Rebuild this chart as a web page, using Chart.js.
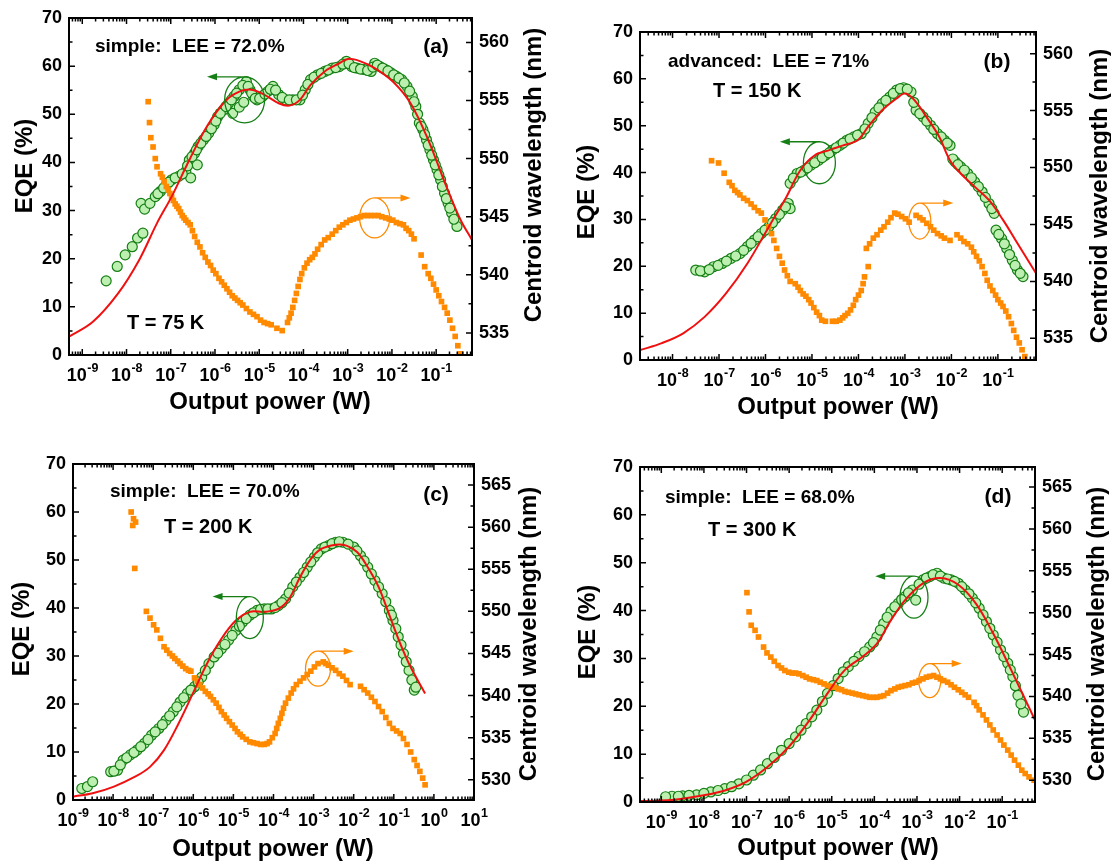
<!DOCTYPE html>
<html>
<head>
<meta charset="utf-8">
<script src="https://cdn.jsdelivr.net/npm/chart.js@4.4.1/dist/chart.umd.min.js"></script>
<style>
  body { margin: 0; background: #fff; }
  #wrap { position: relative; width: 1111px; height: 865px; }
  canvas { position: absolute; }
</style>
</head>
<body>
<div id="wrap">
  <canvas id="pa" width="555" height="432" style="left:0;top:0"></canvas>
  <canvas id="pb" width="556" height="432" style="left:555px;top:0"></canvas>
  <canvas id="pc" width="555" height="433" style="left:0;top:432px"></canvas>
  <canvas id="pd" width="556" height="433" style="left:555px;top:432px"></canvas>
</div>
<script>
// x values are log10 of output power (W)

// (a) T = 75 K
const aEqeLogP = [-8.46,-8.21,-8.03,-7.87,-7.75,-7.63,-7.67,-7.59,-7.47,-7.35,-7.23,-7.10,-6.98,-6.82,-6.66,-6.58,-6.46,-6.38,-6.26,-6.14,-6.02,-5.94,-5.81,-5.69,-5.57,-5.45,-5.29,-5.21,-5.13,-5.05,-4.93,-4.81,-4.69,-4.56,-4.40,-4.24,-4.08,-3.96,-3.84,-3.68,-3.52,-3.35,-3.19,-3.03,-2.91,-2.79,-2.63,-2.47,-2.39,-2.27,-2.15,-2.02,-1.90,-1.78,-1.66,-1.54,-1.46,-1.38,-1.30,-1.22,-1.14,-1.06,-0.98,-0.90,-0.81,-0.73,-0.65,-0.53,-5.60,-5.45,-5.35,-6.55,-6.40,
  -7.29,-7.16,-7.04,-6.90,-6.74,-6.62,-6.52,-6.42,-6.32,-6.20,-6.08,-5.98,-5.88,-5.75,-5.63,-5.51,-5.37,-5.25,-5.17,-5.09,-4.99,-4.87,-4.75,-4.63,-4.48,-4.32,-4.16,-4.02,-3.90,-3.76,-3.60,-3.44,-3.27,-3.11,-2.97,-2.85,-2.71,-2.55,-2.43,-2.33,-2.21,-2.09,-1.96,-1.84,-1.72,-1.60,-1.50,-1.42,-1.34,-1.26,-1.18,-1.10,-1.02,-0.94,-0.86,-0.77,-0.69,-0.60];
const aEqe = [15.4,18.4,20.8,22.5,24.3,25.3,31.5,30.3,31.5,32.9,34.0,35.3,36.4,37.1,38.1,40.5,41.9,43.3,44.7,46.1,47.8,49.5,50.9,52.3,53.7,55.1,56.8,55.1,53.7,53.0,53.7,54.7,55.8,54.1,53.0,53.0,53.0,55.1,57.2,58.2,58.9,59.6,59.9,61.0,59.9,59.6,59.3,58.9,60.6,59.9,59.3,58.6,57.9,57.2,55.8,53.7,51.6,48.2,46.8,44.7,42.6,40.5,38.5,36.4,33.6,31.5,29.5,26.7,50.2,51.5,52.5,36.8,39.5,
  33.5,34.7,35.9,36.8,37.6,39.3,41.2,42.6,44.0,45.4,47.0,48.6,50.2,51.6,53.0,54.4,56.0,55.8,54.4,53.3,53.3,54.2,55.2,55.0,53.5,53.0,53.0,54.0,56.2,57.7,58.5,59.2,59.7,60.4,60.5,59.7,59.4,59.1,59.8,60.2,59.6,59.0,58.2,57.5,56.5,54.8,52.6,50.0,47.5,45.8,43.6,41.5,39.5,37.4,35.0,32.5,30.5,28.2];
const aFitLogP = [-9.30,-8.76,-8.19,-7.71,-7.31,-6.98,-6.58,-6.18,-5.77,-5.45,-5.17,-4.89,-4.56,-4.32,-4.08,-3.84,-3.52,-3.19,-2.99,-2.71,-2.39,-1.98,-1.58,-1.18,-0.77,-0.45,-0.19];
const aFit = [3.8,6.9,12.8,19.8,27.4,32.9,40.5,47.5,52.7,54.7,55.1,54.1,52.3,51.8,53.0,56.1,58.9,60.6,61.5,61.0,59.6,56.8,52.3,44.7,35.0,28.1,23.9];
const aWlLogP = [-7.51,-7.48,-7.45,-7.40,-7.35,-7.31,-7.23,-7.15,-7.06,-6.98,-6.90,-6.82,-6.74,-6.66,-6.56,-6.46,-6.34,-6.22,-6.10,-5.98,-5.85,-5.73,-5.61,-5.49,-5.37,-5.21,-5.05,-4.89,-4.73,-4.60,-4.48,-4.36,-4.28,-4.20,-4.12,-4.04,-3.92,-3.80,-3.68,-3.52,-3.35,-3.19,-3.03,-2.87,-2.71,-2.55,-2.39,-2.23,-2.06,-1.90,-1.74,-1.62,-1.50,-1.34,-1.26,-1.18,-1.06,-0.94,-0.81,-0.69,-0.57,-0.45,
  -7.19,-7.10,-7.02,-6.94,-6.86,-6.78,-6.70,-6.61,-6.51,-6.40,-6.28,-6.16,-6.04,-5.91,-5.79,-5.67,-5.55,-5.43,-5.29,-5.13,-4.97,-4.81,-4.32,-4.24,-4.16,-4.08,-3.98,-3.86,-3.74,-3.60,-3.44,-3.27,-3.11,-2.95,-2.79,-2.63,-2.47,-2.31,-2.14,-1.98,-1.82,-1.68,-1.56,-1.12,-1.00,-0.88,-0.75,-0.63,-0.51];
const aWl = [554.9,553.1,551.8,551.0,550.0,549.3,548.7,548.0,547.3,546.7,546.1,545.7,545.1,544.7,544.3,543.3,542.4,541.5,540.8,540.1,539.4,538.8,538.2,537.8,537.4,536.8,536.4,535.9,535.7,535.4,535.2,535.9,536.7,537.8,539.0,540.1,541.0,541.5,542.2,543.0,543.5,544.1,544.5,544.8,545.0,545.1,545.1,545.0,544.8,544.5,544.3,543.8,543.1,541.7,540.7,540.1,539.2,538.2,537.2,536.1,534.7,533.2,
  548.4,547.6,547.0,546.4,545.9,545.4,544.9,544.5,543.8,542.8,541.9,541.1,540.4,539.7,539.1,538.5,538.0,537.6,537.1,536.6,536.1,535.8,536.3,537.2,538.4,539.6,540.6,541.3,541.8,542.6,543.2,543.8,544.3,544.7,544.9,545.1,545.1,545.1,544.9,544.7,544.4,544.0,543.5,539.7,538.7,537.7,536.7,535.4,533.9];

// (b) T = 150 K
const bEqeLogP = [-7.50,-7.31,-7.12,-6.93,-6.74,-6.55,-6.39,-6.24,-6.09,-5.93,-5.78,-5.63,-5.51,-5.47,-5.47,-5.32,-5.17,-5.02,-4.86,-4.71,-4.56,-4.40,-4.25,-4.10,-3.94,-3.79,-3.64,-3.49,-3.33,-3.18,-3.03,-2.87,-2.76,-2.61,-2.45,-2.30,-2.15,-2.03,-1.92,-1.80,-1.65,-1.50,-1.34,-1.19,-1.08,-1.04,-0.92,-0.81,-0.69,-0.58,-0.46,
  -7.40,-7.21,-7.02,-6.84,-6.64,-6.47,-6.31,-6.16,-6.01,-5.85,-5.70,-5.57,-5.40,-5.24,-5.10,-4.94,-4.78,-4.63,-4.48,-4.33,-4.18,-4.02,-3.86,-3.71,-3.56,-3.41,-3.25,-3.10,-2.95,-2.81,-2.68,-2.53,-2.38,-2.22,-2.09,-1.97,-1.86,-1.72,-1.57,-1.42,-1.27,-1.13,-0.98,-0.86,-0.75,-0.63,-0.52];
const bEqe = [19.2,18.8,19.9,20.6,21.7,22.7,24.2,25.6,27.0,28.4,30.2,32.0,33.4,32.3,37.7,39.8,40.5,41.6,42.6,43.7,44.8,45.8,46.9,47.6,48.3,50.5,52.9,54.7,56.1,57.6,58.1,57.2,53.3,51.9,50.1,48.3,46.9,45.8,42.3,41.2,39.8,38.0,35.9,33.4,31.3,27.7,25.9,23.8,21.3,19.2,17.8,
  19.0,19.3,20.2,21.1,22.2,23.4,24.9,26.3,27.7,29.3,31.1,32.7,38.8,40.1,41.0,42.1,43.2,44.2,45.3,46.3,47.2,48.0,49.3,51.7,53.8,55.4,56.9,57.9,57.8,55.0,52.6,51.0,49.2,47.6,46.3,42.9,41.7,40.5,38.9,37.0,34.7,32.3,26.8,24.8,22.5,20.2,18.5];
const bFitLogP = [-8.70,-8.23,-7.77,-7.31,-6.85,-6.39,-5.93,-5.55,-5.25,-4.94,-4.63,-4.33,-4.02,-3.79,-3.49,-3.18,-2.99,-2.80,-2.49,-2.26,-2.03,-1.80,-1.50,-1.19,-0.89,-0.58,-0.18];
const bFit = [2.1,3.6,5.7,9.2,14.2,20.6,28.4,34.8,40.5,43.7,44.8,45.8,46.9,49.8,53.3,55.8,56.9,55.5,51.2,47.6,42.6,39.8,37.0,34.1,29.9,24.9,18.5];
const bWlLogP = [-7.16,-7.01,-6.89,-6.78,-6.66,-6.55,-6.39,-6.24,-6.09,-5.93,-5.82,-5.70,-5.59,-5.47,-5.36,-5.25,-5.13,-5.02,-4.90,-4.79,-4.71,-4.56,-4.40,-4.29,-4.17,-4.06,-3.94,-3.87,-3.79,-3.83,-3.68,-3.52,-3.37,-3.22,-3.07,-2.91,-2.76,-2.61,-2.45,-2.30,-2.15,-2.03,-1.88,-1.73,-1.57,-1.46,-1.34,-1.23,-1.11,-1.00,-0.89,-0.77,-0.66,-0.54,-0.42,
  -6.72,-6.60,-6.47,-6.31,-6.16,-6.01,-5.87,-5.76,-5.64,-5.53,-5.30,-5.19,-5.07,-4.96,-4.84,-4.48,-4.34,-4.23,-4.11,-4.00,-3.90,-3.76,-3.60,-3.45,-3.30,-3.15,-2.99,-2.68,-2.53,-2.38,-2.22,-1.80,-1.65,-1.52,-1.40,-1.28,-1.17,-1.05,-0.94,-0.83,-0.71,-0.60,-0.48];
const bWl = [550.6,550.4,549.5,548.7,548.0,547.6,547.1,546.5,546.0,544.8,543.6,542.2,541.0,540.0,539.8,539.2,538.7,538.1,537.3,536.6,536.5,536.5,536.6,537.0,537.5,538.4,539.2,540.4,541.3,542.9,543.8,544.5,545.2,546.0,545.7,545.2,545.8,545.4,544.8,544.2,543.8,543.6,544.1,543.5,543.0,542.2,541.3,540.1,539.2,538.4,537.8,536.9,535.7,534.6,533.4,
  548.4,547.8,547.3,546.8,546.2,545.4,544.2,542.9,541.6,540.5,539.5,538.9,538.4,537.7,537.0,536.5,536.8,537.2,537.9,538.8,539.8,543.3,544.1,544.8,545.6,545.9,545.5,545.6,545.1,544.5,544.0,543.8,543.3,542.6,541.8,540.7,539.6,538.8,538.1,537.4,536.3,535.1,534.0];

// (c) T = 200 K
const cEqeLogP = [-8.78,-8.64,-8.51,-8.06,-7.89,-7.75,-7.57,-7.40,-7.22,-7.04,-6.86,-6.68,-6.50,-6.33,-6.15,-5.97,-5.79,-5.61,-5.48,-5.30,-5.12,-4.94,-4.77,-4.59,-4.41,-4.23,-4.05,-3.88,-3.70,-3.52,-3.34,-3.16,-2.98,-2.81,-2.63,-2.45,-2.27,-2.00,-1.83,-1.65,-1.47,-1.29,-1.11,-1.02,-0.89,-0.76,-0.62,-0.49,
  -7.98,-7.82,-7.66,-7.48,-7.31,-7.13,-6.95,-6.77,-6.59,-6.41,-6.24,-6.06,-5.88,-5.70,-5.39,-5.21,-5.03,-4.85,-4.68,-4.50,-4.32,-4.14,-3.96,-3.79,-3.61,-3.43,-3.25,-3.07,-2.90,-2.72,-2.54,-2.36,-2.14,-1.92,-1.74,-1.56,-1.38,-1.20,-1.06,-0.95,-0.82,-0.69,-0.55,-0.45];
const cEqe = [2.4,2.8,3.8,5.9,6.2,8.3,9.4,10.4,11.8,13.5,14.9,16.6,18.4,20.4,22.2,23.6,25.6,28.4,29.8,31.5,33.3,35.3,37.1,38.5,39.5,39.8,39.8,40.5,41.9,44.4,46.4,48.5,50.6,52.3,53.0,53.7,53.7,52.7,50.9,48.5,45.7,43.0,39.5,37.4,34.0,30.5,27.0,22.9,
  6.0,7.3,8.8,9.9,11.1,12.6,14.2,15.7,17.5,19.4,21.3,22.9,24.6,27.0,30.6,32.4,34.3,36.2,37.8,39.0,39.7,39.8,40.1,41.1,43.1,45.4,47.4,49.6,51.5,52.7,53.4,53.8,53.3,51.9,49.8,47.1,44.4,41.3,38.5,35.7,32.3,28.8,25.0,23.5];
const cFitLogP = [-9.00,-8.51,-7.98,-7.44,-7.08,-6.73,-6.37,-6.01,-5.66,-5.30,-4.94,-4.59,-4.23,-3.88,-3.61,-3.34,-3.07,-2.81,-2.45,-2.18,-1.91,-1.65,-1.38,-1.11,-0.84,-0.58,-0.22];
const cFit = [0.7,1.4,2.8,4.9,6.9,10.4,15.9,22.2,28.4,33.6,37.4,39.2,39.2,39.8,41.9,46.4,50.2,52.3,53.2,53.0,51.6,48.5,44.4,38.5,32.6,27.7,22.2];
const cWlLogP = [-7.55,-7.49,-7.44,-7.51,-7.46,-7.17,-7.08,-6.99,-6.91,-6.82,-6.73,-6.59,-6.46,-6.33,-6.19,-6.06,-5.97,-5.84,-5.70,-5.57,-5.43,-5.30,-5.17,-5.03,-4.90,-4.77,-4.59,-4.41,-4.23,-4.10,-3.96,-3.88,-3.79,-3.70,-3.56,-3.43,-3.25,-3.07,-2.89,-2.76,-2.63,-2.45,-2.27,-2.09,-1.83,-1.65,-1.47,-1.29,-1.11,-1.02,-0.84,-0.67,-0.49,-0.35,-0.22,
  -6.66,-6.52,-6.39,-6.26,-6.12,-5.90,-5.77,-5.63,-5.50,-5.36,-5.23,-5.10,-4.96,-4.83,-4.68,-4.50,-4.32,-4.16,-4.03,-3.92,-3.83,-3.75,-3.63,-3.50,-3.34,-3.16,-2.98,-2.70,-2.54,-2.36,-2.18,-1.74,-1.56,-1.38,-1.20,-0.93,-0.76,-0.58,-0.42,-0.28];
const cWl = [561.8,561.0,560.6,560.2,555.1,550.0,549.2,548.4,547.8,546.8,545.8,545.0,544.4,543.8,543.2,542.9,542.1,541.3,540.5,539.9,539.1,538.1,537.3,536.5,535.7,535.1,534.5,534.3,534.2,534.5,535.5,536.7,537.9,539.1,540.3,541.3,542.1,542.9,543.8,544.0,543.6,543.0,542.3,541.3,541.1,540.3,539.3,538.1,536.7,536.1,535.5,534.2,532.4,531.0,529.4,
  545.4,544.7,544.1,543.5,543.0,541.7,540.9,540.2,539.5,538.6,537.7,536.9,536.1,535.4,534.8,534.4,534.2,534.3,535.0,536.1,537.3,538.5,539.7,540.8,541.7,542.5,543.4,543.8,543.3,542.6,541.8,540.7,539.8,538.7,537.4,535.8,534.9,533.3,531.7,530.2];

// (d) T = 300 K
const dEqeLogP = [-8.75,-8.50,-8.17,-7.84,-7.51,-7.18,-6.84,-6.51,-6.18,-5.85,-5.60,-5.35,-5.10,-4.85,-4.61,-4.36,-4.11,-3.94,-3.78,-3.61,-3.44,-3.28,-3.11,-3.03,-2.86,-2.70,-2.53,-2.37,-2.20,-2.03,-1.87,-1.70,-1.54,-1.37,-1.21,-1.04,-0.87,-0.75,-0.63,-0.50,
  -8.90,-8.60,-8.35,-8.00,-7.67,-7.35,-7.00,-6.67,-6.35,-6.00,-5.72,-5.47,-5.22,-4.97,-4.73,-4.48,-4.23,-4.02,-3.86,-3.70,-3.52,-3.36,-3.20,-2.95,-2.78,-2.62,-2.45,-2.28,-2.12,-1.95,-1.78,-1.62,-1.45,-1.29,-1.12,-0.96,-0.81,-0.69,-0.56];
const dEqe = [1.2,1.3,1.5,2.1,2.8,3.8,5.6,8.0,10.8,13.6,16.4,19.2,22.7,25.8,28.3,30.4,32.4,34.5,37.3,39.8,41.5,42.9,44.3,42.2,46.4,47.1,47.8,46.8,46.4,45.7,44.3,42.6,40.5,37.7,34.9,31.8,29.0,26.2,22.3,18.8,
  1.1,1.2,1.4,1.8,2.4,3.2,4.6,6.7,9.3,12.2,15.0,17.8,21.0,24.3,27.2,29.4,31.4,33.3,35.9,38.6,40.8,42.3,43.7,45.5,46.8,47.5,47.2,46.6,46.1,45.0,43.5,41.6,39.1,36.3,33.4,30.4,27.6,24.3,20.5];
const dFitLogP = [-9.50,-9.00,-8.50,-8.00,-7.51,-7.01,-6.51,-6.01,-5.52,-5.10,-4.69,-4.27,-3.94,-3.61,-3.28,-2.86,-2.45,-2.03,-1.62,-1.21,-0.79,-0.23];
const dFit = [0.2,0.3,0.7,1.4,2.4,4.2,7.3,11.5,17.1,22.7,27.6,30.4,33.1,38.0,42.2,45.7,46.8,45.4,41.5,35.2,27.6,17.1];
const dWlLogP = [-6.99,-6.94,-6.89,-6.80,-6.72,-6.60,-6.43,-6.26,-6.10,-5.93,-5.77,-5.60,-5.43,-5.27,-5.10,-4.94,-4.77,-4.61,-4.44,-4.27,-4.11,-3.94,-3.78,-3.61,-3.44,-3.28,-3.11,-2.95,-2.78,-2.61,-2.45,-2.28,-2.12,-1.95,-1.79,-1.66,-1.54,-1.37,-1.21,-1.04,-0.87,-0.71,-0.54,-0.37,-0.25,
  -6.52,-6.35,-6.18,-6.01,-5.85,-5.68,-5.52,-5.35,-5.18,-5.02,-4.85,-4.69,-4.52,-4.36,-4.19,-4.02,-3.86,-3.69,-3.52,-3.36,-3.19,-3.03,-2.86,-2.70,-2.53,-2.37,-2.20,-2.03,-1.87,-1.60,-1.45,-1.29,-1.12,-0.96,-0.79,-0.62,-0.46];
const dWl = [552.4,550.1,548.5,547.9,547.1,545.9,544.7,543.7,543.1,542.8,542.7,542.3,542.0,541.7,541.3,541.1,540.8,540.5,540.3,540.1,539.9,539.9,540.1,540.7,541.1,541.3,541.6,541.9,542.3,542.5,542.1,541.7,541.1,540.5,539.9,539.3,538.4,537.2,536.0,534.8,533.6,532.4,531.2,530.4,530.0,
  545.2,544.2,543.4,542.9,542.8,542.5,542.1,541.9,541.5,541.2,540.9,540.6,540.4,540.2,540.0,539.9,540.0,540.4,540.9,541.2,541.4,541.7,542.1,542.4,542.3,541.9,541.4,540.8,540.2,538.9,537.8,536.6,535.4,534.2,533.0,531.8,530.8];

// right-axis tick labels
const abWlTicks = [535, 540, 545, 550, 555, 560];
const cdWlTicks = [530, 535, 540, 545, 550, 555, 560, 565];

const RED = "#f01010";
const ORANGE = "#ff8a00";
const GREEN = "#157f15";
const LIGHTGREEN = "#bdf0b0";
const FONT = 'Arial, "Liberation Sans", sans-serif';

Chart.defaults.font.family = FONT;
Chart.defaults.font.weight = "bold";
Chart.defaults.color = "#000";

// layout of each panel, page pixels
const panels = [
  { id: "pa", box: [0, 0, 555, 432], plot: [69, 18, 472, 355], xLog: [-9.30, -0.19], wlRange: [533.1, 562.1], wlTicks: abWlTicks,
    eqe: [aEqeLogP, aEqe], fit: [aFitLogP, aFit], wl: [aWlLogP, aWl],
    titles: { eqe: [25, 166], wl: [534, 175], power: [270, 402] },
    texts: [["simple:  LEE = 72.0%", 95, 47, "left", 19], ["(a)", 436, 47, "center", 21], ["T = 75 K", 127, 323, "left", 20]],
    marks: [{ axis: "y", logP: -5.33, v: 53.0, rx: 20, ry: 23, to: -6.18, color: GREEN },
            { axis: "y2", logP: -2.39, v: 544.9, rx: 15, ry: 20, to: -1.58, color: ORANGE }] },
  { id: "pb", box: [555, 0, 556, 432], plot: [640, 32, 1036, 360], xLog: [-8.70, -0.18], wlRange: [533.1, 561.9], wlTicks: abWlTicks,
    eqe: [bEqeLogP, bEqe], fit: [bFitLogP, bFit], wl: [bWlLogP, bWl],
    titles: { eqe: [587, 192], wl: [1100, 196], power: [838, 407] },
    texts: [["advanced:  LEE = 71%", 668, 62, "left", 19], ["(b)", 997, 62, "center", 21], ["T = 150 K", 713, 91, "left", 20]],
    marks: [{ axis: "y", logP: -4.84, v: 42.1, rx: 16, ry: 21, to: -5.69, color: GREEN },
            { axis: "y2", logP: -2.68, v: 545.3, rx: 11, ry: 18, to: -1.96, color: ORANGE }] },
  { id: "pc", box: [0, 432, 555, 433], plot: [73, 464, 474, 800], xLog: [-9, 1], wlRange: [527.6, 567.5], wlTicks: cdWlTicks,
    eqe: [cEqeLogP, cEqe], fit: [cFitLogP, cFit], wl: [cWlLogP, cWl],
    titles: { eqe: [22, 629], wl: [529, 634], power: [273, 849] },
    texts: [["simple:  LEE = 70.0%", 110, 492, "left", 19], ["(c)", 436, 495, "center", 21], ["T = 200 K", 164, 527, "left", 20]],
    marks: [{ axis: "y", logP: -4.59, v: 38.0, rx: 13.5, ry: 21, to: -5.52, color: GREEN },
            { axis: "y2", logP: -2.89, v: 543.2, rx: 12.5, ry: 17.5, to: -2.00, color: ORANGE }] },
  { id: "pd", box: [555, 432, 556, 433], plot: [640, 467, 1035, 802], xLog: [-9.50, -0.23], wlRange: [527.4, 567.4], wlTicks: cdWlTicks,
    eqe: [dEqeLogP, dEqe], fit: [dFitLogP, dFit], wl: [dWlLogP, dWl],
    titles: { eqe: [588, 632], wl: [1097, 634], power: [838, 848] },
    texts: [["simple:  LEE = 68.0%", 665, 498, "left", 19], ["(d)", 998, 497, "center", 21], ["T = 300 K", 708, 530, "left", 20]],
    marks: [{ axis: "y", logP: -3.07, v: 42.8, rx: 14, ry: 21, to: -3.98, color: GREEN },
            { axis: "y2", logP: -2.70, v: 541.9, rx: 11, ry: 17, to: -1.95, color: ORANGE }] }
];

const pts = (lp, v) => lp.map((p, i) => ({ x: Math.pow(10, p), y: v[i] }));

// frame, inward ticks, annotations, texts
const deco = {
  id: "deco",
  afterDatasetsDraw(chart, args, o) {
    const ctx = chart.ctx;
    const { x, y, y2 } = chart.scales;
    const a = chart.chartArea;
    ctx.save();
    ctx.strokeStyle = "#000";
    ctx.lineWidth = 1.5;
    ctx.beginPath();
    const d0 = Math.floor(Math.log10(x.min)), d1 = Math.ceil(Math.log10(x.max));
    for (let d = d0; d <= d1; d++) {
      for (let m = 1; m <= 9; m++) {
        const v = m * Math.pow(10, d);
        if (v < x.min * 0.999 || v > x.max * 1.001) continue;
        const px = x.getPixelForValue(v);
        const len = m === 1 ? 6 : 3.5;
        ctx.moveTo(px, a.bottom); ctx.lineTo(px, a.bottom - len);
        ctx.moveTo(px, a.top); ctx.lineTo(px, a.top + len);
      }
    }
    for (let v = 5; v < 70; v += 5) {
      const py = y.getPixelForValue(v);
      ctx.moveTo(a.left, py); ctx.lineTo(a.left + (v % 10 === 0 ? 6 : 3.5), py);
    }
    for (let v = Math.ceil(y2.min / 2.5) * 2.5; v <= y2.max; v += 2.5) {
      const py = y2.getPixelForValue(v);
      ctx.moveTo(a.right, py); ctx.lineTo(a.right - (v % 5 === 0 ? 6 : 3.5), py);
    }
    ctx.stroke();
    ctx.lineWidth = 2;
    ctx.strokeRect(a.left, a.top, a.right - a.left, a.bottom - a.top);

    // ellipse + arrow markers
    o.marks.forEach(m => {
      const s = m.axis === "y2" ? y2 : y;
      const cx = x.getPixelForValue(Math.pow(10, m.logP));
      const cy = s.getPixelForValue(m.v);
      const tip = x.getPixelForValue(Math.pow(10, m.to));
      const ty = cy - m.ry;
      const dir = Math.sign(tip - cx);
      ctx.strokeStyle = m.color;
      ctx.fillStyle = m.color;
      ctx.lineWidth = 1.3;
      ctx.beginPath();
      ctx.ellipse(cx, cy, m.rx, m.ry, 0, 0, 2 * Math.PI);
      ctx.moveTo(cx, ty);
      ctx.lineTo(tip - dir * 6, ty);
      ctx.stroke();
      ctx.beginPath();
      ctx.moveTo(tip, ty);
      ctx.lineTo(tip - dir * 10, ty - 3.5);
      ctx.lineTo(tip - dir * 10, ty + 3.5);
      ctx.closePath();
      ctx.fill();
    });
    ctx.restore();
  },
  afterDraw(chart, args, o) {
    const ctx = chart.ctx;
    const x = chart.scales.x;
    const a = chart.chartArea;
    ctx.save();
    ctx.fillStyle = "#000";
    ctx.textBaseline = "middle";

    // decade labels 10^n
    const ly = a.bottom + 21.5;
    for (let d = Math.ceil(Math.log10(x.min) - 1e-6); d <= Math.floor(Math.log10(x.max) + 1e-6); d++) {
      const px = x.getPixelForValue(Math.pow(10, d));
      ctx.font = "bold 18px " + FONT;
      const wb = ctx.measureText("10").width;
      ctx.font = "bold 12.5px " + FONT;
      const we = ctx.measureText(String(d)).width;
      const x0 = px - (wb + we) / 2;
      ctx.textAlign = "left";
      ctx.font = "bold 18px " + FONT;
      ctx.fillText("10", x0, ly);
      ctx.font = "bold 12.5px " + FONT;
      ctx.fillText(String(d), x0 + wb + 0.5, ly - 7.5);
    }

    ctx.translate(-o.box[0], -o.box[1]);
    ctx.font = "bold 24px " + FONT;
    ctx.textAlign = "center";
    const t = o.titles;
    ctx.fillText("Output power (W)", t.power[0], t.power[1]);
    [["EQE (%)", t.eqe], ["Centroid wavelength (nm)", t.wl]].forEach(([txt, p]) => {
      ctx.save();
      ctx.translate(p[0], p[1]);
      ctx.rotate(-Math.PI / 2);
      ctx.fillText(txt, 0, 0);
      ctx.restore();
    });
    o.texts.forEach(([txt, tx, ty, align, size]) => {
      ctx.font = "bold " + size + "px " + FONT;
      ctx.textAlign = align;
      ctx.fillText(txt, tx, ty);
    });
    ctx.restore();
  }
};

panels.forEach(p => {
  const [bl, bt, bw, bh] = p.box;
  const [pl, pt, pr, pb] = p.plot;
  new Chart(document.getElementById(p.id), {
    type: "scatter",
    data: {
      datasets: [
        { label: "fit", data: pts(p.fit[0], p.fit[1]), yAxisID: "y", showLine: true,
          borderColor: RED, borderWidth: 2, pointRadius: 0, tension: 0.35 },
        { label: "wavelength", data: pts(p.wl[0], p.wl[1]), yAxisID: "y2", pointStyle: "rect",
          pointRadius: 4, backgroundColor: ORANGE, borderWidth: 0 },
        { label: "EQE", data: pts(p.eqe[0], p.eqe[1]), yAxisID: "y", pointRadius: 5,
          backgroundColor: LIGHTGREEN, borderColor: GREEN, borderWidth: 1.2 }
      ]
    },
    options: {
      responsive: false,
      animation: false,
      events: [],
      layout: { padding: { top: pt - bt, left: 0, right: 0, bottom: 0 } },
      plugins: {
        legend: { display: false },
        tooltip: { enabled: false },
        deco: { box: p.box, titles: p.titles, texts: p.texts, marks: p.marks }
      },
      scales: {
        x: {
          type: "logarithmic", bounds: "data",
          min: Math.pow(10, p.xLog[0]), max: Math.pow(10, p.xLog[1]),
          ticks: { display: false },
          grid: { display: false }, border: { display: false },
          afterFit: s => { s.height = bt + bh - pb; }
        },
        y: {
          position: "left", bounds: "data", min: 0, max: 70,
          ticks: { stepSize: 10, padding: 7, font: { size: 18, weight: "bold" } },
          grid: { display: false, drawTicks: false }, border: { display: false },
          afterFit: s => { s.width = pl - bl; }
        },
        y2: {
          position: "right", bounds: "data", min: p.wlRange[0], max: p.wlRange[1],
          ticks: { padding: 7, font: { size: 18, weight: "bold" } },
          afterBuildTicks: s => { s.ticks = p.wlTicks.map(v => ({ value: v })); },
          grid: { display: false, drawTicks: false }, border: { display: false },
          afterFit: s => { s.width = bl + bw - pr; }
        }
      }
    },
    plugins: [deco]
  });
});
</script>
</body>
</html>
